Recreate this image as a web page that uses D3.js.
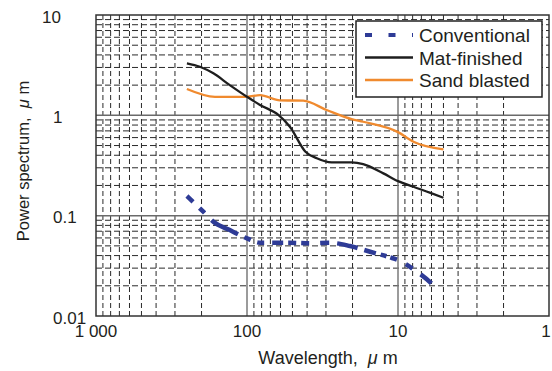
<!DOCTYPE html>
<html><head><meta charset="utf-8">
<script src="https://cdn.jsdelivr.net/npm/d3@7"></script>
<style>
html,body{margin:0;padding:0;background:#fff;}
svg{display:block;font-family:"Liberation Sans",Arial,sans-serif;}
</style></head>
<body>
<svg id="c" width="552" height="371"></svg>
<script>
// ---- data ----
const seriesNames = ["Conventional", "Mat-finished", "Sand blasted"];
const seriesColors = ["#2e3b96", "#1e1e1e", "#f08a2e"];

const conventionalWavelength = [250, 194, 167, 130, 100, 82, 52, 38.3, 28.2, 20.8, 15.3, 11.3, 10, 7.7, 6.0, 5.7];
const conventionalValue =      [0.157, 0.109, 0.0869, 0.0718, 0.0594, 0.0537, 0.0537, 0.053, 0.0537, 0.0498, 0.0437, 0.0384, 0.0361, 0.0285, 0.0211, 0.0195];

const matWavelength = [250, 205, 167, 130, 100, 82, 62, 52, 41, 34.5, 27.5, 20.3, 17, 12.5, 10, 7.9, 6.1, 5];
const matValue =      [3.3, 3.05, 2.62, 2.0, 1.53, 1.27, 1.01, 0.77, 0.434, 0.373, 0.340, 0.340, 0.327, 0.264, 0.221, 0.194, 0.169, 0.151];

const sandWavelength = [250, 163, 100, 82, 60.5, 42.4, 29.7, 20.3, 17, 10, 7.9, 5];
const sandValue =      [1.83, 1.53, 1.53, 1.59, 1.41, 1.40, 1.13, 0.918, 0.863, 0.68, 0.545, 0.458];

const xTickValues = [1000, 100, 10, 1];
const xTickLabels = ["1 000", "100", "10", "1"];
const yTickValues = [10, 1, 0.1, 0.01];
const yTickLabels = ["10", "1", "0.1", "0.01"];
const xTitle = ["Wavelength,  ", "\u03bc", " m"];
const yTitle = ["Power spectrum,  ", "\u03bc", " m"];

// ---- chart ----
const svg = d3.select("#c");
const L = 96, R = 549, T = 15, B = 316;
const x = d3.scaleLog().domain([1000, 1]).range([L, R]);
const y = d3.scaleLog().domain([0.01, 10]).range([B, T]);

const grid = svg.append("g");
// minor grid
const minorX = [], minorY = [];
[1, 10, 100].forEach(d => { for (let k = 2; k <= 9; k++) minorX.push(k * d); });
[0.01, 0.1, 1].forEach(d => { for (let k = 2; k <= 9; k++) minorY.push(+(k * d).toPrecision(3)); });
grid.selectAll(".mx").data(minorX).enter().append("line")
  .attr("x1", d => x(d)).attr("x2", d => x(d)).attr("y1", T).attr("y2", B)
  .attr("stroke", "#2a2a2a").attr("stroke-width", 1).attr("stroke-dasharray", "5,3");
grid.selectAll(".my").data(minorY).enter().append("line")
  .attr("y1", d => y(d)).attr("y2", d => y(d)).attr("x1", L).attr("x2", R)
  .attr("stroke", "#2a2a2a").attr("stroke-width", 1).attr("stroke-dasharray", "6,3");
// major grid
grid.selectAll(".Mx").data([100, 10]).enter().append("line")
  .attr("x1", d => x(d)).attr("x2", d => x(d)).attr("y1", T).attr("y2", B)
  .attr("stroke", "#7a7a7a").attr("stroke-width", 1.5);
grid.selectAll(".My").data([1, 0.1]).enter().append("line")
  .attr("y1", d => y(d)).attr("y2", d => y(d)).attr("x1", L).attr("x2", R)
  .attr("stroke", "#6a6a6a").attr("stroke-width", 1.5);

// frame
svg.append("rect").attr("x", L).attr("y", T).attr("width", R - L).attr("height", B - T)
  .attr("fill", "none").attr("stroke", "#333").attr("stroke-width", 1.5);

// series
const line = d3.line().x(d => x(d[0])).y(d => y(d[1])).curve(d3.curveMonotoneX);
const seriesData = [
  d3.zip(conventionalWavelength, conventionalValue),
  d3.zip(matWavelength, matValue),
  d3.zip(sandWavelength, sandValue)
];
const seriesStyle = [
  {w: 4.5, dash: "8.5,9,7,10,30,7,7,7,7,8,11,5,8,5,8,11,9,8,21,7,12,5,6,4,7,10,8,10,14,40"},
  {w: 2.3, dash: null},
  {w: 2.3, dash: null}
];
[2, 1, 0].forEach(i => {
  svg.append("path").datum(seriesData[i]).attr("d", line)
    .attr("fill", "none").attr("stroke", seriesColors[i])
    .attr("stroke-width", seriesStyle[i].w)
    .attr("stroke-dasharray", seriesStyle[i].dash);
});

// tick labels
const txtColor = "#231f20";
svg.selectAll(".xt").data(xTickValues).enter().append("text")
  .attr("x", d => Math.min(x(d), 546)).attr("y", 337).attr("text-anchor", "middle")
  .attr("font-size", 17).attr("fill", txtColor)
  .text((d, i) => xTickLabels[i]);
svg.selectAll(".yt").data(yTickValues).enter().append("text")
  .attr("x", d => d >= 10 ? 42 : 53).attr("y", d => y(d) + 7.5)
  .attr("font-size", 17).attr("fill", txtColor)
  .text((d, i) => yTickLabels[i]);

// axis titles
function titleParts(sel, parts) {
  parts.forEach((p, i) => sel.append("tspan").attr("font-style", i === 1 ? "italic" : null).text(p));
}
const xt = svg.append("text").attr("x", 328).attr("y", 364).attr("text-anchor", "middle")
  .attr("font-size", 18).attr("fill", txtColor).style("white-space", "pre");
titleParts(xt, xTitle);
const yt = svg.append("text").attr("transform", "translate(29,161) rotate(-90)")
  .attr("text-anchor", "middle").attr("font-size", 16.5).attr("fill", txtColor).style("white-space", "pre");
titleParts(yt, yTitle);

// legend
const lg = svg.append("g");
lg.append("rect").attr("x", 356).attr("y", 21).attr("width", 186).attr("height", 76)
  .attr("fill", "#fff").attr("stroke", "#222").attr("stroke-width", 1.5);
const legendDash = ["7,16.5", null, null];
const legendWidth = [4, 2.3, 2.3];
seriesNames.forEach((name, i) => {
  const ly = 35 + i * 22.5;
  lg.append("line").attr("x1", 365).attr("x2", 413).attr("y1", ly).attr("y2", ly)
    .attr("stroke", seriesColors[i]).attr("stroke-width", legendWidth[i])
    .attr("stroke-dasharray", legendDash[i]);
  lg.append("text").attr("x", 419).attr("y", ly + 7).attr("font-size", 19)
    .attr("fill", txtColor).text(name);
});
</script>
</body></html>
